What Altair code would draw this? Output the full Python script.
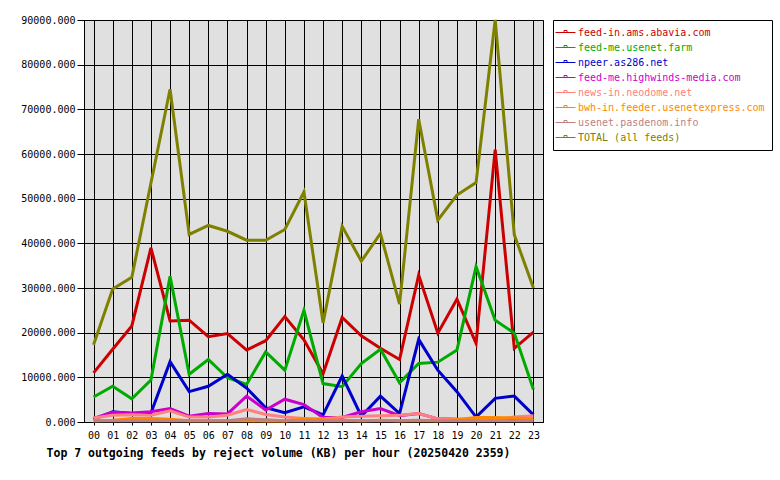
import altair as alt
import pandas as pd

hours = [f"{h:02d}" for h in range(24)]

feeds = [
    "feed-in.ams.abavia.com",
    "feed-me.usenet.farm",
    "npeer.as286.net",
    "feed-me.highwinds-media.com",
    "news-in.neodome.net",
    "bwh-in.feeder.usenetexpress.com",
    "usenet.pasdenom.info",
    "TOTAL (all feeds)",
]
colors = ["#CC0000", "#00AA00", "#0000CC", "#CC00CC", "#FF8080", "#FF8800", "#C08080", "#808000"]

abavia = [11000, 16300, 21500, 39000, 22600, 22800, 19100, 19800, 16100, 18200, 23600, 18400,
          10800, 23400, 19300, 16500, 14000, 32900, 19900, 27500, 17600, 61000, 16500, 20100]
usenet_farm = [5600, 8000, 5200, 9400, 32600, 10700, 14000, 9900, 8400, 15700, 11600, 25000,
               8600, 7900, 13100, 16300, 8800, 13100, 13400, 16100, 34800, 22800, 19900, 7300]
as286 = [600, 2300, 1900, 2000, 13500, 6800, 8000, 10700, 7600, 3200, 2100, 3400,
         1600, 10300, 1300, 5800, 1900, 18500, 11600, 6800, 1100, 5300, 5800, 1600]
highwinds = [800, 2200, 2000, 2300, 3000, 1300, 1900, 1800, 5800, 2700, 5100, 3900,
             1000, 1000, 2300, 3000, 1400, 1900, 700, 600, 500, 400, 400, 400]
neodome = [900, 1500, 1600, 1500, 2500, 1100, 1100, 1500, 2800, 1700, 1100, 800,
           700, 1100, 1300, 1400, 1500, 1900, 700, 600, 600, 600, 1100, 1400]
usenetexpress = [300, 400, 800, 800, 600, 300, 300, 300, 300, 200, 200, 700,
                 500, 400, 300, 400, 300, 300, 300, 500, 1000, 1000, 900, 700]
pasdenom = [300, 300, 300, 300, 300, 300, 300, 300, 700, 500, 300, 300,
            300, 300, 300, 300, 300, 400, 300, 300, 300, 300, 300, 300]
total = [17300, 29800, 32400, 53500, 74500, 42000, 44000, 42700, 40700, 40700, 43100, 51500,
         22200, 43800, 36000, 42200, 26400, 67800, 45200, 50800, 53600, 90000, 41900, 30000]

series = [abavia, usenet_farm, as286, highwinds, neodome, usenetexpress, pasdenom, total]
y_ticks = [0, 10000, 20000, 30000, 40000, 50000, 60000, 70000, 80000, 90000]
title_text = "Top 7 outgoing feeds by reject volume (KB) per hour (20250420 2359)"

rows = []
for i, (name, vals) in enumerate(zip(feeds, series)):
    for h, v in zip(hours, vals):
        rows.append({"feed": name, "hour": h, "value": v, "k": i})
df = pd.DataFrame(rows)

FONT = "DejaVu Sans Mono"

chart = alt.Chart(df).mark_line(strokeWidth=3).encode(
    x=alt.X("hour:O", sort=hours,
            scale=alt.Scale(type="point", padding=0.5),
            axis=alt.Axis(title=title_text, labelAngle=0, grid=True, gridColor="black",
                          gridOpacity=1, gridWidth=1, tickSize=3, tickColor="black",
                          domainColor="black", labelFont=FONT, labelFontSize=10,
                          labelColor="black", labelPadding=5,
                          titleFont=FONT, titleFontSize=11.5, titleFontWeight="bold",
                          titleColor="black", titleX=194, titleY=31,
                          titleAlign="center", titleBaseline="middle")),
    y=alt.Y("value:Q", scale=alt.Scale(domain=[0, 90000], nice=False),
            axis=alt.Axis(title=None, values=y_ticks, format=".3f", grid=True,
                          gridColor="black", gridOpacity=1, gridWidth=1, tickSize=7,
                          tickColor="black", domainColor="black", labelFont=FONT,
                          labelFontSize=10, labelColor="black", labelPadding=2)),
    color=alt.Color("feed:N", sort=feeds,
                    scale=alt.Scale(domain=feeds, range=colors),
                    legend=alt.Legend(title=None, orient="none", legendX=469, legendY=0,
                                      fillColor="white", strokeColor="black", padding=7,
                                      symbolType="M-2,0H2M-0.3,0V-0.4H0.3V0",
                                      symbolSize=100, symbolStrokeWidth=1,
                                      symbolFillColor="transparent",
                                      labelFont=FONT, labelFontSize=10, labelLimit=400,
                                      labelColor=alt.ExprRef(expr="scale('color', datum.value)"),
                                      labelOffset=7, rowPadding=4)),
    order=alt.Order("k:Q"),
).properties(width=459, height=402, padding={"left": 84, "top": 20, "right": 237, "bottom": 58},
             autosize="none").configure_view(fill="#E0E0E0", stroke="black", strokeWidth=1)

chart.save("out.html", embed_options={"renderer": "svg", "actions": False})
